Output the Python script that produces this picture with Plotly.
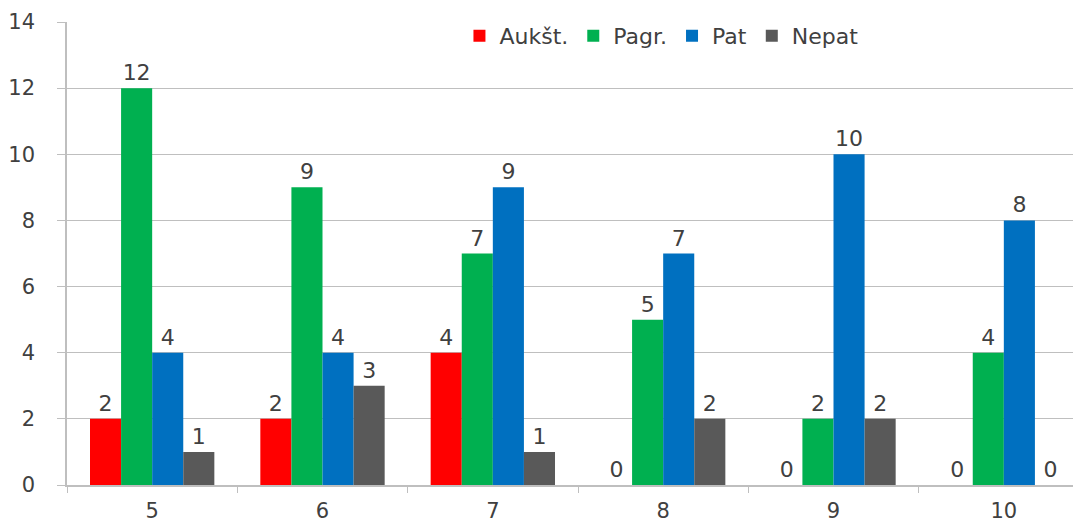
import plotly.graph_objects as go

# values
classes = ["5", "6", "7", "8", "9", "10"]
aukst = [2, 2, 4, 0, 0, 0]
pagr = [12, 9, 7, 5, 2, 4]
pat = [4, 4, 9, 7, 10, 8]
nepat = [1, 3, 1, 2, 2, 0]

series = [
    ("Aukšt.", aukst, "#FF0000"),
    ("Pagr.", pagr, "#00B050"),
    ("Pat", pat, "#0070C0"),
    ("Nepat", nepat, "#595959"),
]

FONT = "DejaVu Sans"
TEXT_COLOR = "#404040"
GRID = "#BFBFBF"

fig = go.Figure()

for name, vals, color in series:
    fig.add_trace(go.Bar(
        name=name,
        x=classes,
        y=vals,
        marker=dict(color=color, line=dict(width=0)),
        text=vals,
        textposition="outside",
        cliponaxis=False,
        textfont=dict(family=FONT, size=22, color=TEXT_COLOR),
    ))

# page body adds an 8px offset, margins are set with that in mind
fig.update_layout(
    width=1081,
    height=522,
    margin=dict(l=59, r=0, t=14, b=45, autoexpand=False),
    paper_bgcolor="white",
    plot_bgcolor="white",
    barmode="group",
    bargap=0.27,
    bargroupgap=0,
    uniformtext=dict(minsize=22, mode="show"),
    font=dict(family=FONT, size=21, color=TEXT_COLOR),
    legend=dict(
        orientation="h",
        x=0.384, y=1.015,
        xanchor="left", yanchor="top",
        font=dict(family=FONT, size=22, color=TEXT_COLOR),
        bgcolor="rgba(0,0,0,0)",
        itemwidth=30,
        tracegroupgap=0,
    ),
)

fig.update_xaxes(
    type="category",
    showline=True, linecolor=GRID, linewidth=1.5,
    ticks="outside", tickson="boundaries", ticklen=6, tickcolor=GRID,
    showgrid=False,
    ticklabelstandoff=6,
    tickfont=dict(family=FONT, size=21, color=TEXT_COLOR),
)

fig.update_yaxes(
    range=[0, 14], dtick=2,
    showline=True, linecolor=GRID, linewidth=1.5,
    ticks="outside", ticklen=8, tickcolor=GRID,
    showgrid=True, gridcolor=GRID, gridwidth=1,
    zeroline=False,
    ticklabelstandoff=18,
    tickfont=dict(family=FONT, size=21, color=TEXT_COLOR),
)

fig.write_html("out.html")
